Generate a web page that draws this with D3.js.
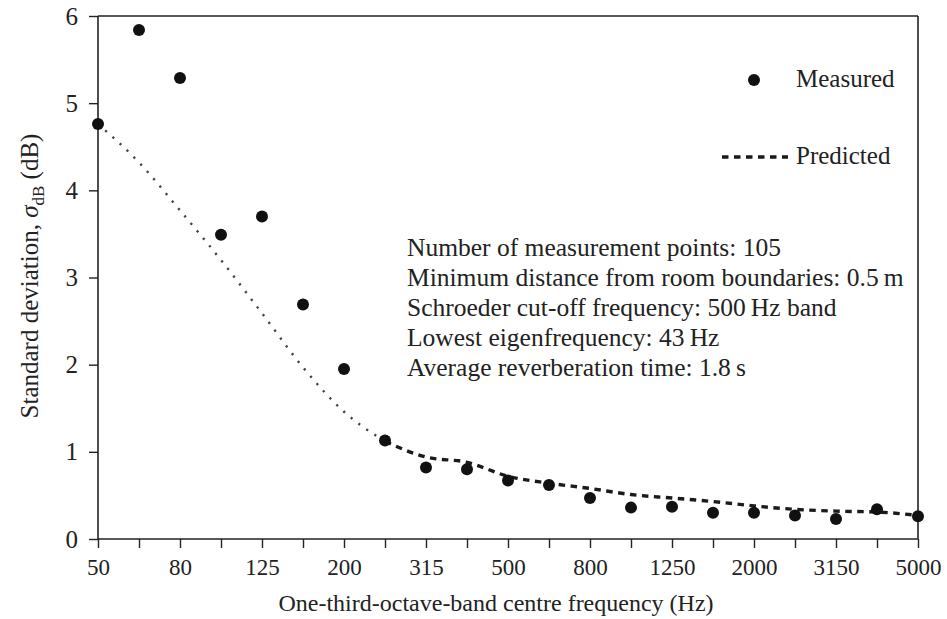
<!DOCTYPE html>
<html>
<head>
<meta charset="utf-8">
<script src="https://cdn.jsdelivr.net/npm/d3@7"></script>
<style>
  html, body { margin: 0; padding: 0; background: #fff; }
  svg { display: block; }
  text { font-family: "Liberation Serif", "Times New Roman", serif; fill: #222; }
</style>
</head>
<body>
<svg id="chart" width="947" height="619"></svg>
<script>
// ---- Data ----
const bands = ["50","63","80","100","125","160","200","250","315","400","500","630","800","1000","1250","1600","2000","2500","3150","4000","5000"];
const tickLabels = ["50","80","125","200","315","500","800","1250","2000","3150","5000"];
const measured = [4.76, 5.84, 5.29, 3.49, 3.70, 2.69, 1.95, 1.13, 0.82, 0.80, 0.67, 0.62, 0.47, 0.36, 0.37, 0.30, 0.30, 0.27, 0.23, 0.34, 0.26];
const predicted = [4.76, 4.32, 3.77, 3.20, 2.59, 1.97, 1.46, 1.12, 0.94, 0.88, 0.72, 0.64, 0.58, 0.51, 0.47, 0.43, 0.38, 0.34, 0.32, 0.31, 0.27];
const yTicks = [0, 1, 2, 3, 4, 5, 6];
const notes = [
  "Number of measurement points: 105",
  "Minimum distance from room boundaries: 0.5\u2009m",
  "Schroeder cut-off frequency: 500\u2009Hz band",
  "Lowest eigenfrequency: 43\u2009Hz",
  "Average reverberation time: 1.8\u2009s"
];

// ---- Layout ----
const svg = d3.select("#chart");
const L = 98, R = 918, T = 16, B = 539;
const ink = "#222";
const serif = "'Liberation Serif', 'Times New Roman', serif";

const x = d3.scalePoint().domain(bands).range([L, R]);
const y = d3.scaleLinear().domain([0, 6]).range([B, T]);

// frame (top & right)
svg.append("line").attr("x1", L).attr("x2", R).attr("y1", T).attr("y2", T).attr("stroke", ink).attr("stroke-width", 1.6);
svg.append("line").attr("x1", R).attr("x2", R).attr("y1", T).attr("y2", B).attr("stroke", ink).attr("stroke-width", 1.6);

// x axis
const xAxis = d3.axisBottom(x).tickSize(9).tickPadding(13)
  .tickFormat(d => tickLabels.includes(d) ? d : "");
const gx = svg.append("g").attr("transform", `translate(0,${B})`).call(xAxis);
gx.select(".domain").attr("stroke", ink).attr("stroke-width", 1.6).attr("d", `M${L},0H${R}`);
gx.selectAll(".tick line").attr("stroke", ink).attr("stroke-width", 1.4);
gx.selectAll(".tick text").attr("font-size", 23).attr("fill", ink).attr("dy", "0.62em")
  .style("font-family", serif);

// y axis
const yAxis = d3.axisLeft(y).tickValues(yTicks).tickSize(9).tickPadding(11).tickFormat(d3.format("d"));
const gy = svg.append("g").attr("transform", `translate(${L},0)`).call(yAxis);
gy.select(".domain").attr("stroke", ink).attr("stroke-width", 1.6).attr("d", `M0,${B}V${T}`);
gy.selectAll(".tick line").attr("stroke", ink).attr("stroke-width", 1.4);
gy.selectAll(".tick text").attr("font-size", 25).attr("fill", ink)
  .style("font-family", serif);

// axis titles
svg.append("text").attr("x", 496).attr("y", 611)
  .attr("text-anchor", "middle").attr("font-size", 24)
  .text("One-third-octave-band centre frequency (Hz)");

const yt = svg.append("text").attr("transform", `translate(38,276) rotate(-90)`)
  .attr("text-anchor", "middle").attr("font-size", 25);
yt.append("tspan").text("Standard deviation, ");
yt.append("tspan").attr("font-style", "italic").text("\u03C3");
yt.append("tspan").attr("font-size", 17).attr("dy", 6).text("dB");
yt.append("tspan").attr("dy", -6).text(" (dB)");

// predicted line: thin dotted part up to 250 Hz, then heavier dashed part
const pts = bands.map((b, i) => ({ b, v: predicted[i] }));
const line = d3.line().x(d => x(d.b)).y(d => y(d.v)).curve(d3.curveMonotoneX);
const split = bands.indexOf("250");
svg.append("path").datum(pts.slice(0, split + 1)).attr("d", line)
  .attr("fill", "none").attr("stroke", "#444").attr("stroke-width", 2.4)
  .attr("stroke-dasharray", "2.2,7.5");
svg.append("path").datum(pts.slice(split)).attr("d", line)
  .attr("fill", "none").attr("stroke", "#1a1a1a").attr("stroke-width", 3.4)
  .attr("stroke-dasharray", "6.5,5.5");

// measured points
svg.append("g").selectAll("circle").data(bands).join("circle")
  .attr("cx", d => x(d)).attr("cy", (d, i) => y(measured[i])).attr("r", 6)
  .attr("fill", "#111");

// legend
svg.append("circle").attr("cx", 754).attr("cy", 80).attr("r", 6).attr("fill", "#111");
svg.append("text").attr("x", 796).attr("y", 87).attr("font-size", 25).text("Measured");
svg.append("line").attr("x1", 722).attr("x2", 788).attr("y1", 157).attr("y2", 157)
  .attr("stroke", "#1a1a1a").attr("stroke-width", 3.4).attr("stroke-dasharray", "6.5,5.5");
svg.append("text").attr("x", 796).attr("y", 164).attr("font-size", 25).text("Predicted");

// notes
svg.append("g").selectAll("text").data(notes).join("text")
  .attr("x", 407).attr("y", (d, i) => 256 + i * 30)
  .attr("font-size", 25.5).text(d => d);
</script>
</body>
</html>
